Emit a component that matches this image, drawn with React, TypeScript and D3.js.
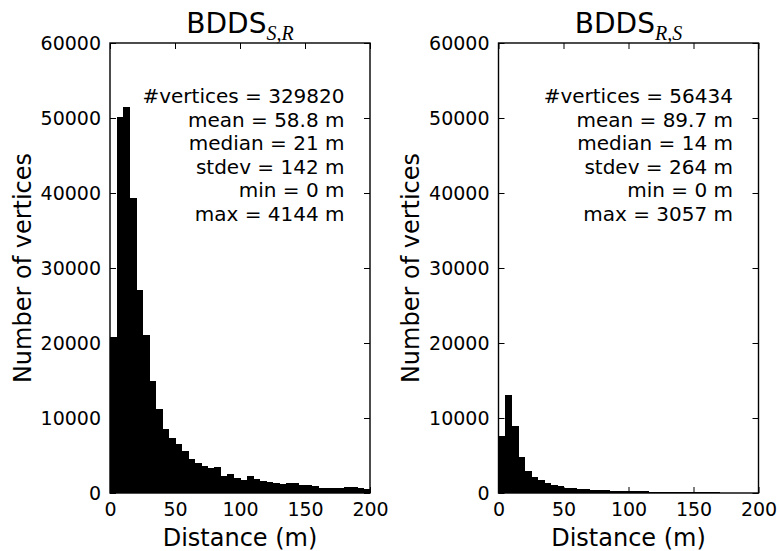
import { useEffect, useRef } from 'react';
import * as d3 from 'd3';

// histogram counts, 5 m bins from 0 to 200 m
const binWidth = 5;
const countsSR = [
  20740, 50090, 51460, 39360, 27080, 21050, 14890, 11210, 8560, 7360,
  6470, 5580, 4560, 4020, 3580, 3360, 3490, 2330, 2550, 2020,
  1710, 2240, 1890, 1650, 1490, 1360, 1180, 1360, 1360, 1130,
  1040, 960, 730, 690, 690, 730, 780, 820, 730, 560,
];
const countsRS = [
  7580, 13130, 8900, 4780, 3000, 2200, 1670, 1310, 1040, 870,
  730, 640, 560, 510, 420, 380, 350, 320, 300, 280,
  260, 240, 220, 200, 190, 180, 170, 160, 150, 140,
  130, 120, 100, 80, 60, 50, 40, 40, 30, 30,
];
const statsSR = ['#vertices = 329820', 'mean = 58.8 m', 'median = 21 m', 'stdev = 142 m', 'min = 0 m', 'max = 4144 m'];
const statsRS = ['#vertices = 56434', 'mean = 89.7 m', 'median = 14 m', 'stdev = 264 m', 'min = 0 m', 'max = 3057 m'];
const xTicks = [0, 50, 100, 150, 200];
const yTicks = [0, 10000, 20000, 30000, 40000, 50000, 60000];

const panels = [
  { sub: 'S,R', counts: countsSR, stats: statsSR, left: 110, right: 370 },
  { sub: 'R,S', counts: countsRS, stats: statsRS, left: 498.5, right: 758.5 },
];

const FONT = '"DejaVu Sans", sans-serif';

export default function App() {
  const svgRef = useRef<SVGSVGElement>(null);

  useEffect(() => {
    document.body.style.margin = '0';
    if (!svgRef.current) return;
    const svg = d3.select(svgRef.current);
    svg.selectAll('*').remove();

    const top = 43;
    const bottom = 493;

    panels.forEach(p => {
      const x = d3.scaleLinear().domain([0, 200]).range([p.left, p.right]);
      const y = d3.scaleLinear().domain([0, 60000]).range([bottom, top]);
      const g = svg.append('g');

      // bars
      g.selectAll('rect.bar')
        .data(p.counts)
        .enter()
        .append('rect')
        .attr('class', 'bar')
        .attr('x', (d, i) => x(i * binWidth))
        .attr('width', (d, i) => x((i + 1) * binWidth) - x(i * binWidth) + 0.6)
        .attr('y', d => y(d))
        .attr('height', d => y(0) - y(d))
        .attr('fill', '#000')
        .attr('shape-rendering', 'crispEdges');

      // axes with inward ticks
      const styleAxis = (sel: any) => {
        sel.select('.domain').remove();
        sel.selectAll('line').attr('stroke', '#000').attr('stroke-width', 1);
        sel.selectAll('text')
          .attr('fill', '#000')
          .style('font-family', FONT)
          .style('font-size', '19px');
      };

      g.append('g')
        .attr('transform', `translate(0,${bottom})`)
        .call(d3.axisBottom(x).tickValues(xTicks).tickSize(-6).tickPadding(10).tickFormat(d3.format('d')))
        .call(styleAxis);
      g.append('g')
        .attr('transform', `translate(0,${top})`)
        .call(d3.axisTop(x).tickValues(xTicks).tickSize(-6).tickFormat(() => ''))
        .call(styleAxis);
      g.append('g')
        .attr('transform', `translate(${p.left},0)`)
        .call(d3.axisLeft(y).tickValues(yTicks).tickSize(-6).tickPadding(9).tickFormat(d3.format('d')))
        .call(styleAxis);
      g.append('g')
        .attr('transform', `translate(${p.right},0)`)
        .call(d3.axisRight(y).tickValues(yTicks).tickSize(-6).tickFormat(() => ''))
        .call(styleAxis);

      // frame
      g.append('rect')
        .attr('x', p.left)
        .attr('y', top)
        .attr('width', p.right - p.left)
        .attr('height', bottom - top)
        .attr('fill', 'none')
        .attr('stroke', '#000')
        .attr('stroke-width', 1.4);

      // title with math subscript
      const title = g.append('text')
        .attr('x', (p.left + p.right) / 2)
        .attr('y', 32.5)
        .attr('text-anchor', 'middle')
        .style('font-family', FONT)
        .style('font-size', '28px')
        .attr('fill', '#000');
      title.append('tspan').text('BDDS');
      title.append('tspan')
        .attr('dy', 7)
        .style('font-family', '"Liberation Serif", serif')
        .style('font-style', 'italic')
        .style('font-size', '20px')
        .text(p.sub);

      // stats block
      g.selectAll('text.stat')
        .data(p.stats)
        .enter()
        .append('text')
        .attr('class', 'stat')
        .attr('x', p.right - 25.5)
        .attr('y', (d, i) => 103.3 + i * 23.5)
        .attr('text-anchor', 'end')
        .style('font-family', FONT)
        .style('font-size', '20px')
        .attr('fill', '#000')
        .text(d => d);

      // axis labels
      g.append('text')
        .attr('x', (p.left + p.right) / 2)
        .attr('y', 545.5)
        .attr('text-anchor', 'middle')
        .style('font-family', FONT)
        .style('font-size', '24px')
        .attr('fill', '#000')
        .text('Distance (m)');
      g.append('text')
        .attr('transform', `translate(${p.left - 79.3},${(top + bottom) / 2}) rotate(-90)`)
        .attr('text-anchor', 'middle')
        .style('font-family', FONT)
        .style('font-size', '24px')
        .attr('fill', '#000')
        .text('Number of vertices');
    });
  }, []);

  return (
    <svg ref={svgRef} width={780} height={551} style={{ display: 'block', background: '#fff' }}></svg>
  );
}
